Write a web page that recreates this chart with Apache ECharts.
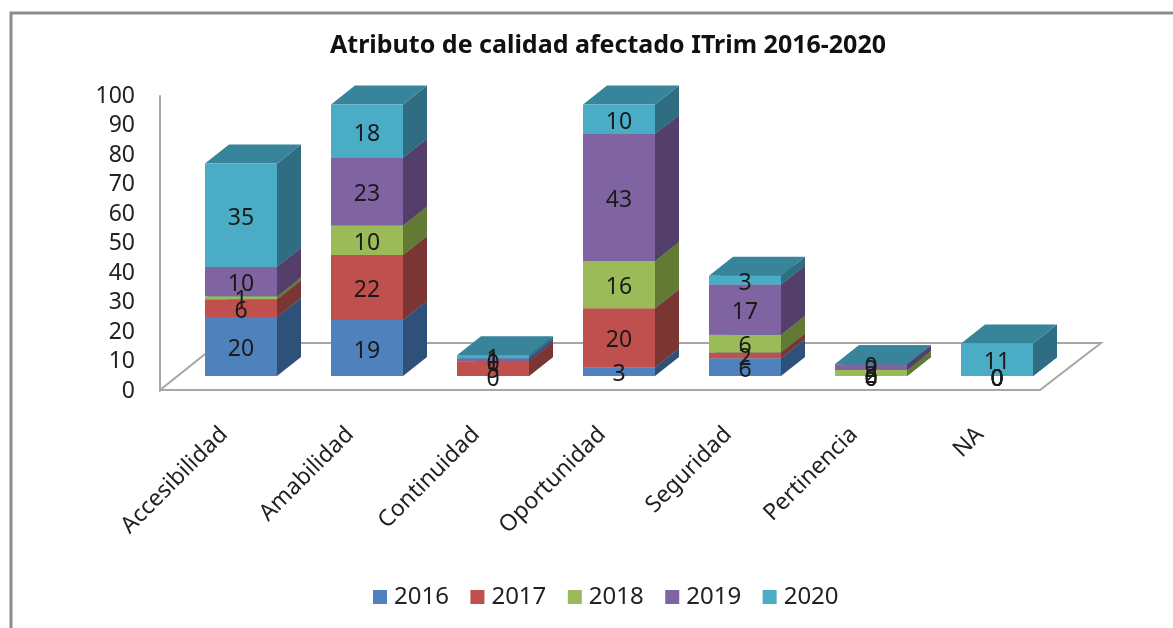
<!DOCTYPE html>
<html>
<head>
<meta charset="utf-8">
<style>html,body{margin:0;padding:0;background:#fff}#c{width:1173px;height:628px}</style>
<script src="https://cdn.jsdelivr.net/npm/echarts@6/dist/echarts.min.js"></script>
</head>
<body>
<div id="c"></div>
<script>
const categories = ['Accesibilidad','Amabilidad','Continuidad','Oportunidad','Seguridad','Pertinencia','NA'];
const seriesNames = ['2016','2017','2018','2019','2020'];
const v2016 = [20,19,0,3,6,0,0];
const v2017 = [6,22,5,20,2,0,0];
const v2018 = [1,10,0,16,6,2,0];
const v2019 = [10,23,1,43,17,2,0];
const v2020 = [35,18,1,10,3,0,11];
const yearValues = [v2016,v2017,v2018,v2019,v2020];
const frontColors = ['#4F81BD','#C0504D','#9BBB59','#8064A2','#4BACC6'];
const sideColors = ['#2F5078','#7B3533','#627A33','#533F6A','#2F6E82'];
const topColor = '#38849B';
const FONT = '"Noto Sans", sans-serif';

// 3D look: bar front sits in front of the axis plane by a fixed projection offset
const depth = {dx:24, dy:-19};
const shiftY = -15;
const barFrac = 72/126;

const running = categories.map(()=>0);
const stacked = yearValues.map(vals => vals.map((v,i)=>{
  const s = running[i]; running[i]+=v; return [i,s,s+v,v];
}));
const labelData = [];
stacked.forEach(rows=>rows.forEach(r=>labelData.push([r[0],(r[1]+r[2])/2,r[3]])));

function barRenderer(si){
  return function(params,api){
    const c = api.value(0), a = api.coord([c,api.value(1)]), b = api.coord([c,api.value(2)]);
    const w = api.size([1,0])[0]*barFrac;
    const x0 = a[0]-w/2, x1 = a[0]+w/2, y0 = a[1]+shiftY, y1 = b[1]+shiftY;
    const d = depth;
    return {type:'group',children:[
      {type:'polygon',shape:{points:[[x1,y0],[x1+d.dx,y0+d.dy],[x1+d.dx,y1+d.dy],[x1,y1]]},style:{fill:sideColors[si]}},
      {type:'polygon',shape:{points:[[x0,y1],[x0+d.dx,y1+d.dy],[x1+d.dx,y1+d.dy],[x1,y1]]},style:{fill:topColor}},
      {type:'rect',shape:{x:x0,y:y1,width:w,height:y0-y1},style:{fill:frontColors[si]}}
    ]};
  };
}

const series = seriesNames.map((name,si)=>({
  name,type:'custom',coordinateSystem:'cartesian2d',
  itemStyle:{color:frontColors[si]},
  encode:{x:0,y:[1,2]},
  data:stacked[si],
  renderItem:barRenderer(si),
  silent:true,z:2+si
}));
series.push({
  name:'labels',type:'custom',coordinateSystem:'cartesian2d',z:20,silent:true,
  encode:{x:0,y:1},data:labelData,
  renderItem(params,api){
    const p = api.coord([api.value(0),api.value(1)]);
    return {type:'text',style:{text:String(api.value(2)),x:p[0],y:p[1]+shiftY+3,
      textAlign:'center',textVerticalAlign:'middle',fill:'#1a1a1a',font:'23px '+FONT}};
  }
});

const chart = echarts.init(document.getElementById('c'));
chart.setOption({
  animation:false,backgroundColor:'#fff',
  title:{text:'Atributo de calidad afectado ITrim 2016-2020',left:608,top:28,textAlign:'center',
    padding:[5,10,5,0],
    textStyle:{fontFamily:FONT,fontSize:25,fontWeight:'bold',color:'#111'}},
  legend:{data:seriesNames,left:368,top:580,icon:'rect',itemWidth:14,itemHeight:14,itemGap:21.5,
    textStyle:{fontFamily:FONT,fontSize:24,color:'#222',padding:[0,0,0,2]},selectedMode:false},
  grid:{left:178,width:882,top:96,height:295},
  xAxis:{type:'category',data:categories,
    axisLine:{show:false},axisTick:{show:false},
    axisLabel:{rotate:45,interval:0,margin:23,padding:[0,24,0,0],fontFamily:FONT,fontSize:23,color:'#222'}},
  yAxis:{type:'value',min:0,max:100,interval:10,offset:18,
    axisLine:{show:true,lineStyle:{color:'#a6a6a6',width:2}},axisTick:{show:false},splitLine:{show:false},
    axisLabel:{margin:25,padding:[8,0,0,0],fontFamily:FONT,fontSize:23,color:'#222'}},
  graphic:[
    {type:'polyline',silent:true,z:0,shape:{points:[[1173,13],[11,13],[11,628]]},style:{stroke:'#8c8c8c',lineWidth:3,fill:null}},
    {type:'polyline',silent:true,z:0,shape:{points:[[160,390],[219,343],[1101,343],[1040,390],[160,390]]},style:{stroke:'#a6a6a6',lineWidth:2,fill:null}}
  ],
  series
});
</script>
</body>
</html>
